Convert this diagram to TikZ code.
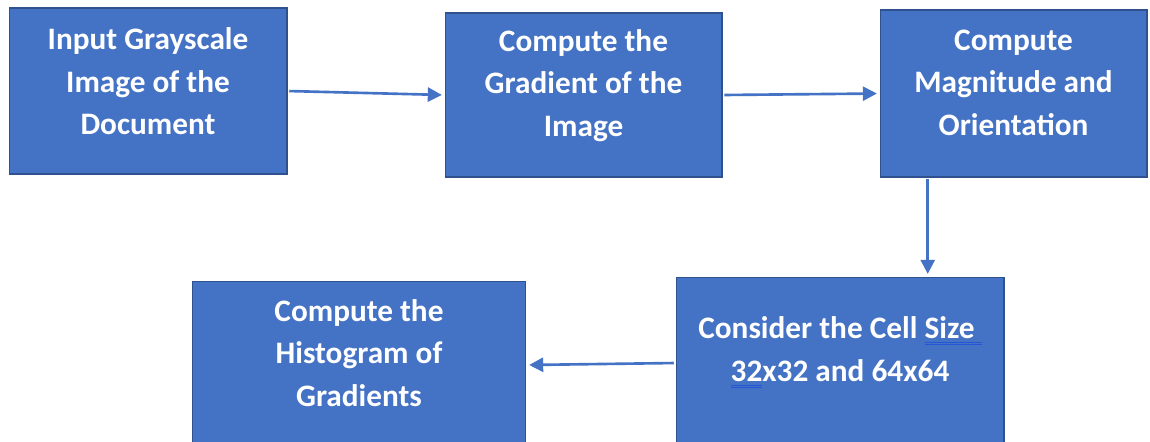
\documentclass[tikz,border=0pt]{standalone}
\usepackage{fontspec}
\setmainfont{Carlito}
\usetikzlibrary{arrows.meta, calc}
\definecolor{boxblue}{HTML}{4472C4}
\definecolor{boxedge}{HTML}{2F528F}
\definecolor{markblue}{HTML}{2456D6}
% double blue mark under a word
\newsavebox{\markbox}
\newcommand{\gramline}[1]{\sbox{\markbox}{#1}%
    \rlap{\textcolor{markblue}{\rule[-2.4pt]{\wd\markbox}{0.5pt}}}%
    \rlap{\textcolor{markblue}{\rule[-3.6pt]{\wd\markbox}{0.5pt}}}\usebox{\markbox}}

\begin{document}
\begin{tikzpicture}[x=0.02cm, y=-0.02cm,
    stepbox/.style={draw=boxedge, line width=0.6pt, fill=boxblue, text=white,
        font=\fontsize{17.8}{24.2}\selectfont\bfseries, align=center, inner sep=0pt, text depth=14pt},
    flow/.style={draw=boxblue, line width=1.5pt, -{Triangle[length=8pt,width=8pt]},
        shorten <=1pt, shorten >=1.5pt}]
    \clip (0,0) rectangle (1150,441);
    \fill[white] (0,0) rectangle (1150,441);
    % top row
    \node[stepbox, text depth=11pt, minimum width=5.56cm, minimum height=3.32cm] (input) at (148,91)
        {Input Grayscale\\Image of the\\Document};
    \node[stepbox, minimum width=5.54cm, minimum height=3.28cm] (gradient) at (583.5,95)
        {Compute the\\Gradient of the\\Image};
    \node[stepbox, text depth=12.5pt, minimum width=5.34cm, minimum height=3.34cm] (magnitude) at (1013.5,93.5)
        {Compute\\Magnitude and\\Orientation};
    % bottom row
    \node[stepbox, text depth=16pt, minimum width=6.56cm, minimum height=3.44cm] (cellsize) at (840,363)
        {Consider the Cell \gramline{Size\ }\\\gramline{32}x32 and 64x64};
    \node[stepbox, minimum width=6.68cm, minimum height=3.36cm] (histogram) at (359,365)
        {Compute the\\Histogram of\\Gradients};
    % connectors
    \coordinate (drop) at ($(magnitude.south west)!0.18!(magnitude.south east)$);
    \draw[flow] (input.east) -- (gradient.west);
    \draw[flow] (gradient.east) -- (magnitude.west);
    \draw[flow] (drop) -- (drop |- cellsize.north);
    \draw[flow] (cellsize.west) -- (histogram.east);
\end{tikzpicture}
\end{document}
